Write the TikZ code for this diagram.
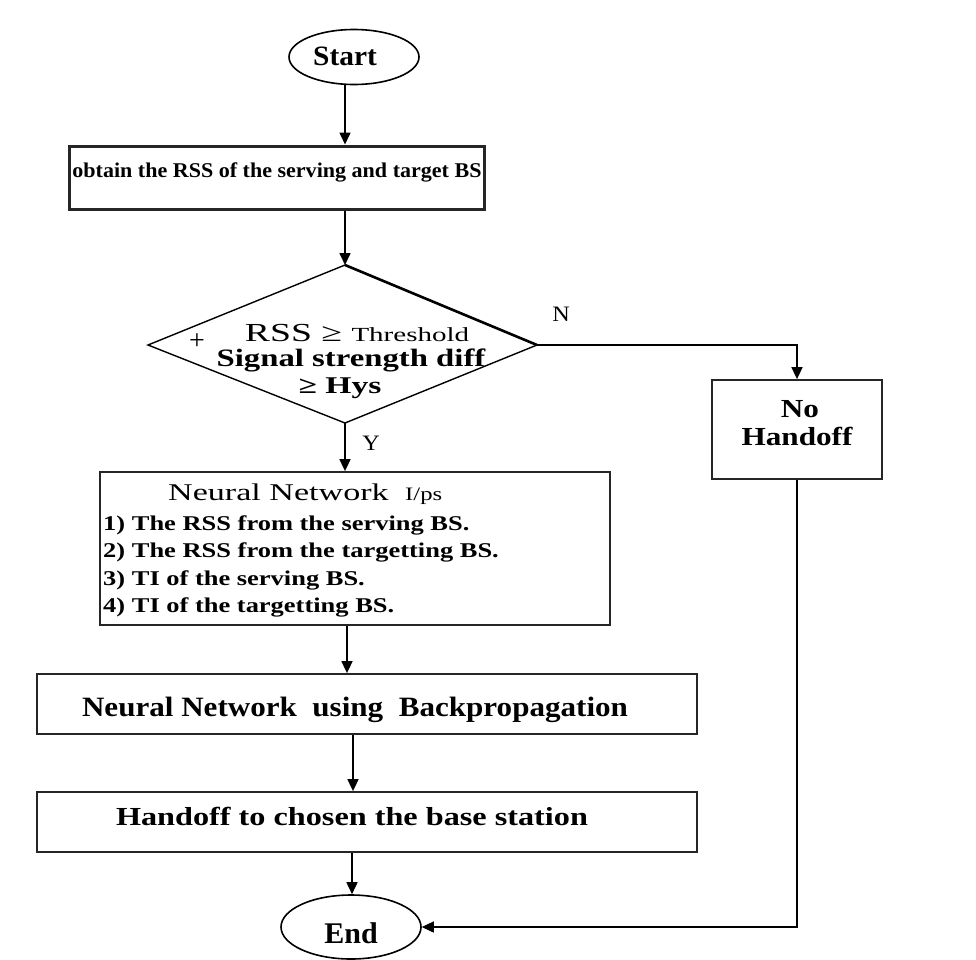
\documentclass[tikz,border=0pt]{standalone}
\usepackage{fontspec}
\setmainfont{Liberation Serif}
\usetikzlibrary{shapes.geometric,arrows.meta}
\newcommand{\fs}[2]{\fontsize{#1}{#1}\selectfont\addfontfeature{FakeStretch=#2}}
\begin{document}
\begin{tikzpicture}[x=1pt,y=-1pt,
  box/.style={draw=black!85, line width=1.8pt, inner sep=0pt},
  txt/.style={inner sep=0pt, anchor=base},
  conn/.style={line width=1.6pt, -{Triangle[length=12pt,width=11pt]}},
  line/.style={line width=1.6pt}]
\useasboundingbox (0,0) rectangle (976,959);
\fill[white] (0,0) rectangle (976,959);
% shapes
\node[ellipse, draw, line width=1.6pt, minimum width=130pt, minimum height=55pt, inner sep=0pt] (start) at (354,57) {};
\node[txt, font=\bfseries\fs{28}{1.05}] (startt) at (345,65) {Start};
\node[box, line width=3pt, minimum width=415pt, minimum height=63pt] (obtain) at (276.5,177.5) {};
\node[txt, font=\bfseries\fs{21}{1.05}] (obtaint) at (277,177) {obtain the RSS of the serving and target BS};
\draw[line width=1.4pt] (345,265) coordinate (dt) -- (537,345) coordinate (dr) -- (345,423) coordinate (db) -- (148,345) coordinate (dl) -- cycle;
\draw[line width=2.6pt] (dt) -- (dr);
\node[txt, font=\fs{26}{1.45}] (t1) at (357,341) {RSS ≥ \fontsize{20}{20}\selectfont\addfontfeature{FakeStretch=1.45}Threshold};
\node[txt, font=\bfseries\fs{25}{1.31}] (t2) at (351,366) {Signal strength diff};
\node[font=\fs{28}{1}] (plus) at (197,342) {+};
\node[txt, font=\bfseries\fs{24}{1.4}] (t3) at (340,393) {≥ Hys};
\node[font=\fs{22}{1.1}] (nlab) at (561,314) {N};
\node[font=\fs{22}{1.1}] (ylab) at (371,443) {Y};
\node[box, minimum width=170pt, minimum height=99pt] (noh) at (797,429.5) {};
\node[txt, font=\bfseries\fs{26}{1.2}] (noh1) at (800,417) {No};
\node[txt, font=\bfseries\fs{26}{1.2}] (noh2) at (797,445) {Handoff};
\node[box, minimum width=510pt, minimum height=153pt] (nn) at (355,548.5) {};
\node[txt, anchor=base west, font=\fs{24}{1.42}] (nnt) at (168,500) {Neural Network};
\node[txt, anchor=base west, font=\fs{19}{1.3}] (nnip) at (405,500) {I/ps};
\node[txt, anchor=base west, font=\bfseries\fs{21}{1.26}] (nn1) at (103,530) {1) The RSS from the serving BS.};
\node[txt, anchor=base west, font=\bfseries\fs{21}{1.26}] (nn2) at (103,557.5) {2) The RSS from the targetting BS.};
\node[txt, anchor=base west, font=\bfseries\fs{21}{1.26}] (nn3) at (103,585) {3) TI of the serving BS.};
\node[txt, anchor=base west, font=\bfseries\fs{21}{1.26}] (nn4) at (103,612.5) {4) TI of the targetting BS.};
\node[box, minimum width=660pt, minimum height=60pt] (bp) at (367,704) {};
\node[txt, font=\bfseries\fs{28}{1.11}] (bpt) at (355,716) {Neural Network \ using \ Backpropagation};
\node[box, minimum width=660pt, minimum height=60pt] (ho) at (367,822) {};
\node[txt, font=\bfseries\fs{26}{1.24}] (hot) at (352,825) {Handoff to chosen the base station};
\node[ellipse, draw, line width=1.6pt, minimum width=140pt, minimum height=64pt, inner sep=0pt] (end) at (351,927) {};
\node[txt, font=\bfseries\fs{30}{1}] (endt) at (351,943) {End};
% connectors
\draw[conn] (start.south -| 345,0) -- (obtain.north -| 345,0);
\draw[conn] (obtain.south -| 345,0) -- (dt);
\draw[conn] (db) -- (nn.north -| 345,0);
\draw[conn] (nn.south -| 347,0) -- (bp.north -| 347,0);
\draw[conn] (bp.south -| 353,0) -- (ho.north -| 353,0);
\draw[conn] (ho.south -| 352,0) -- (end.north -| 352,0);
\draw[conn] (dr) -| (noh.north);
\draw[conn] (noh.south) |- (end.east);
\end{tikzpicture}
\end{document}
